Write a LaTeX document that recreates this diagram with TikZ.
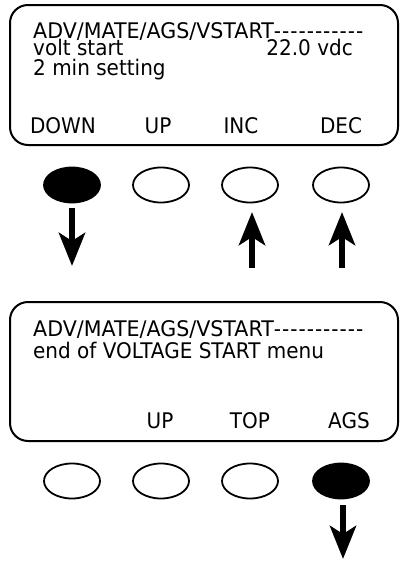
\documentclass[tikz,border=0pt]{standalone}
\usepackage{graphicx}
\usepackage{fontspec}
\setmainfont{DejaVu Sans}[Ligatures=TeXOff,FakeStretch=0.93]
\usetikzlibrary{shapes.geometric,arrows.meta}
\newcommand{\hyk}{-\kern1pt}
\newcommand{\pathline}{\scalebox{1.03}[1]{ADV/MATE/AGS/VSTART}\hyk\hyk\hyk\hyk\hyk\hyk\hyk\hyk\hyk\hyk-}
\begin{document}
\begin{tikzpicture}[x=1pt,y=-1pt,
  screen/.style={draw,line width=2pt,rounded corners=18pt,minimum width=388pt,inner sep=0pt},
  txt/.style={anchor=base west,inner sep=0pt,font=\fontsize{21.5}{24}\selectfont},
  rtxt/.style={anchor=base east,inner sep=0pt,font=\fontsize{21.5}{24}\selectfont},
  lbl/.style={anchor=base,inner sep=0pt,font=\fontsize{21.5}{24}\selectfont},
  key/.style={draw,ellipse,line width=1.8pt,minimum width=56pt,minimum height=35pt,inner sep=0pt},
  pressed/.style={key,fill=black},
  push/.style={line width=6.5pt,-{Stealth[length=33pt,width=26pt,inset=8pt]}}]
\fill[white] (0,0) rectangle (400,562);
\useasboundingbox (0,0) rectangle (400,562);
% screen 1
\node[screen,minimum height=140pt] (s1) at (204,75) {};
\node[txt] (l11) at (33,38) {\pathline};
\node[txt] (l12) at (33,55) {volt start};
\node[rtxt] (l12v) at (353,55) {22.0 vdc};
\node[txt] (l13) at (33,75) {2 min setting};
\node[lbl] (b11) at (63,133) {DOWN};
\node[lbl] (b12) at (158,133) {UP};
\node[lbl] (b13) at (241,133) {INC};
\node[lbl] (b14) at (341,133) {DEC};
% keys row 1
\node[pressed] (k11) at (72,185) {};
\node[key] (k12) at (161,185) {};
\node[key] (k13) at (250,185) {};
\node[key] (k14) at (341,185) {};
\coordinate (a1s) at (72,208);
\coordinate (a1e) at (72,266);
\draw[push] (a1s) -- (a1e);
\coordinate (a2s) at (252,268);
\coordinate (a2e) at (252,212);
\draw[push] (a2s) -- (a2e);
\coordinate (a3s) at (342,268);
\coordinate (a3e) at (342,212);
\draw[push] (a3s) -- (a3e);
% screen 2
\node[screen,minimum height=139pt] (s2) at (204,371.5) {};
\node[txt] (l21) at (33,336) {\pathline};
\node[txt] (l22) at (33,358) {end of VOLTAGE START menu};
\node[lbl] (b22) at (160,428) {UP};
\node[lbl] (b23) at (250,428) {TOP};
\node[lbl] (b24) at (349,428) {AGS};
% keys row 2
\node[key] (k21) at (72,481) {};
\node[key] (k22) at (161,481) {};
\node[key] (k23) at (250,481) {};
\node[pressed] (k24) at (341,481) {};
\coordinate (a4s) at (343,505);
\coordinate (a4e) at (343,559);
\draw[push] (a4s) -- (a4e);
\end{tikzpicture}
\end{document}
